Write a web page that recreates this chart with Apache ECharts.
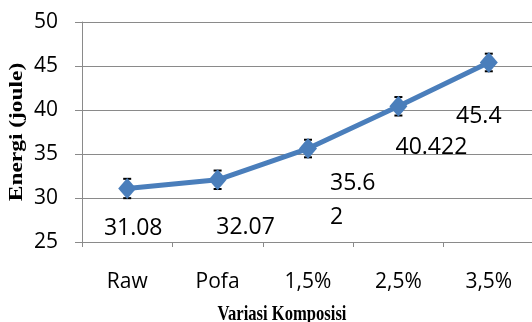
<!DOCTYPE html>
<html><head><meta charset="utf-8">
<script src="https://cdn.jsdelivr.net/npm/echarts@6/dist/echarts.min.js"></script>
<style>html,body{margin:0;padding:0;background:#fff}#c{width:532px;height:322px}</style>
</head><body><div id="c"></div>
<script>
const categories = ['Raw', 'Pofa', '1,5%', '2,5%', '3,5%'];
const energyValues = [31.08, 32.07, 35.62, 40.422, 45.4];
const errorValues = [1.1, 1.05, 1.0, 1.05, 1.0];
const yMin = 25, yMax = 50, yInterval = 5;
const xAxisTitle = 'Variasi Komposisi';
const yAxisTitle = 'Energi (joule)';

// label placement (layout only)
const labelLayout = [
  { offset: [6, 40] },
  { offset: [28, 48] },
  { offset: [22, 52], align: 'left', width: 50, overflow: 'breakAll', lineHeight: 34 },
  { offset: [33, 41] },
  { offset: [-10, 54] }
];

const lineColor = '#4A7EBB';
const gridColor = '#8a8a8a';
const chart = echarts.init(document.getElementById('c'), null, { renderer: 'canvas' });

const lineData = energyValues.map((v, i) => ({
  value: v,
  label: Object.assign({}, labelLayout[i])
}));
const errData = energyValues.map((v, i) => [i, v - errorValues[i], v + errorValues[i]]);

chart.setOption({
  animation: false,
  backgroundColor: '#fff',
  grid: { left: 82, right: -2, top: 22, bottom: 80, outerBoundsMode: 'none', containLabel: false },
  xAxis: {
    type: 'category',
    data: categories,
    boundaryGap: true,
    axisLine: { show: true, lineStyle: { color: gridColor, width: 1 } },
    axisTick: { show: true, length: 5, alignWithLabel: false, lineStyle: { color: gridColor } },
    axisLabel: { margin: 30, color: '#000', fontFamily: 'Open Sans', fontSize: 21 },
    splitLine: { show: false }
  },
  yAxis: {
    type: 'value',
    min: yMin, max: yMax, interval: yInterval,
    axisLine: { show: true, lineStyle: { color: gridColor, width: 1 } },
    axisTick: { show: true, length: 7, lineStyle: { color: gridColor } },
    axisLabel: { margin: 24, color: '#000', fontFamily: 'Open Sans', fontSize: 21 },
    splitLine: { show: true, lineStyle: { color: gridColor, width: 1 } }
  },
  graphic: [
    {
      type: 'text', x: 282, y: 304, scaleX: 0.79,
      style: { text: xAxisTitle, font: 'bold 21px "Liberation Serif"', textAlign: 'center', textVerticalAlign: 'top', fill: '#000' }
    },
    {
      type: 'text', x: 17, y: 132, rotation: Math.PI / 2, scaleX: 1.3,
      style: { text: yAxisTitle, font: 'bold 18px "Liberation Serif"', textAlign: 'center', textVerticalAlign: 'middle', fill: '#000' }
    }
  ],
  series: [
    {
      type: 'custom',
      z: 1,
      data: errData,
      renderItem: function (params, api) {
        const x = api.coord([api.value(0), api.value(1)])[0];
        const lo = api.coord([api.value(0), api.value(1)])[1];
        const hi = api.coord([api.value(0), api.value(2)])[1];
        const cw = 4;
        const st = { stroke: '#000', lineWidth: 2 };
        return {
          type: 'group',
          children: [
            { type: 'line', shape: { x1: x, y1: lo, x2: x, y2: hi }, style: st },
            { type: 'line', shape: { x1: x - cw, y1: lo, x2: x + cw, y2: lo }, style: st },
            { type: 'line', shape: { x1: x - cw, y1: hi, x2: x + cw, y2: hi }, style: st }
          ]
        };
      }
    },
    {
      type: 'line',
      z: 3,
      data: lineData,
      symbol: 'diamond',
      symbolSize: [18, 21],
      lineStyle: { color: lineColor, width: 5 },
      itemStyle: { color: lineColor },
      label: {
        show: true,
        position: 'inside',
        fontFamily: 'Open Sans',
        fontSize: 23,
        color: '#000',
        formatter: p => String(p.value)
      }
    }
  ]
});
</script></body></html>
